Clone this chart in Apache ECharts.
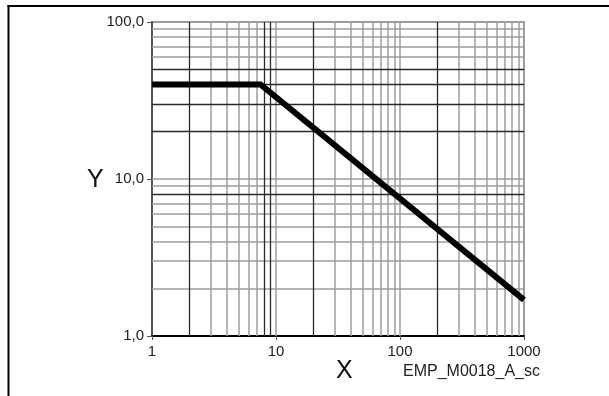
<!DOCTYPE html>
<html>
<head>
<meta charset="utf-8">
<script src="https://cdn.jsdelivr.net/npm/echarts@6/dist/echarts.min.js"></script>
<style>
html,body{margin:0;padding:0;background:#fff;}
#c{width:609px;height:396px;}
</style>
</head>
<body>
<div id="c"></div>
<script>
// Data
const curveX = [1, 7.5, 1000];
const curveY = [40, 40, 1.7];

// Tick labels
const xTickLabels = ['1', '10', '100', '1000'];
const yTickLabels = ['1,0', '10,0', '100,0'];

// Grid line values
const xGrayLines = [3, 4, 5, 6, 7, 10, 30, 40, 50, 60, 70, 80, 90, 100, 300, 400, 500, 600, 700, 800, 900];
const xDarkLines = [2, 8, 9, 20, 200];
const yGrayLines = [2, 3, 4, 5, 6, 7, 9, 10, 60, 70, 80, 90];
const yDarkLines = [8, 20, 30, 40, 50];

const GRAY = '#9c9c9c';
const DARK = '#2a2a2a';

const mlData = [];
xGrayLines.forEach(v => mlData.push({xAxis: v, lineStyle: {color: GRAY, width: 1.5, type: 'solid'}}));
yGrayLines.forEach(v => mlData.push({yAxis: v, lineStyle: {color: GRAY, width: 1.5, type: 'solid'}}));
xDarkLines.forEach(v => mlData.push({xAxis: v, lineStyle: {color: DARK, width: 1.3, type: 'solid'}}));
yDarkLines.forEach(v => mlData.push({yAxis: v, lineStyle: {color: DARK, width: 1.3, type: 'solid'}}));

const chart = echarts.init(document.getElementById('c'), null, {renderer: 'canvas'});
const font = '"Liberation Sans", Arial, sans-serif';

chart.setOption({
  animation: false,
  backgroundColor: '#fff',
  grid: {
    left: 152, right: 85, top: 22, bottom: 60,
    show: true, borderColor: GRAY, borderWidth: 2, backgroundColor: 'transparent'
  },
  xAxis: {
    type: 'log', logBase: 10, min: 1, max: 1000,
    axisLine: {show: true, onZero: false, lineStyle: {color: '#000', width: 2}},
    axisTick: {show: true, length: 4, lineStyle: {color: '#555', width: 1}},
    splitLine: {show: false},
    minorTick: {show: false},
    axisLabel: {
      show: true, margin: 8, color: '#222', fontSize: 15, fontFamily: font,
      formatter: function (v) {
        const i = Math.round(Math.log10(v));
        return xTickLabels[i] !== undefined ? xTickLabels[i] : '';
      }
    }
  },
  yAxis: {
    type: 'log', logBase: 10, min: 1, max: 100,
    axisLine: {show: true, onZero: false, lineStyle: {color: '#555', width: 2}},
    axisTick: {show: true, length: 5, lineStyle: {color: '#555', width: 1}},
    splitLine: {show: false},
    axisLabel: {
      show: true, margin: 8, color: '#222', fontSize: 15, fontFamily: font,
      formatter: function (v) {
        const i = Math.round(Math.log10(v));
        return yTickLabels[i] !== undefined ? yTickLabels[i] : '';
      }
    }
  },
  series: [
    {
      type: 'line',
      data: [],
      silent: true,
      markLine: {
        silent: true,
        symbol: ['none', 'none'],
        label: {show: false},
        emphasis: {disabled: true},
        data: mlData
      }
    },
    {
      type: 'line',
      data: curveX.map((x, i) => [x, curveY[i]]),
      showSymbol: false,
      symbol: 'none',
      lineStyle: {color: '#000', width: 6, cap: 'butt', join: 'miter'},
      z: 5,
      silent: true
    }
  ],
  graphic: [
    {type: 'line', shape: {x1: 8.5, y1: 5, x2: 8.5, y2: 396}, style: {stroke: '#000', lineWidth: 2}},
    {type: 'line', shape: {x1: 7.5, y1: 6, x2: 609, y2: 6}, style: {stroke: '#000', lineWidth: 2}},
    {type: 'text', left: 87, top: 168, style: {text: 'Y', fontSize: 25, fontFamily: font, fill: '#111'}},
    {type: 'text', left: 336, top: 359, style: {text: 'X', fontSize: 25, fontFamily: font, fill: '#111'}},
    {type: 'text', left: 403, top: 364, style: {text: 'EMP_M0018_A_sc', fontSize: 16, fontFamily: font, fill: '#222'}}
  ]
});
</script>
</body>
</html>
